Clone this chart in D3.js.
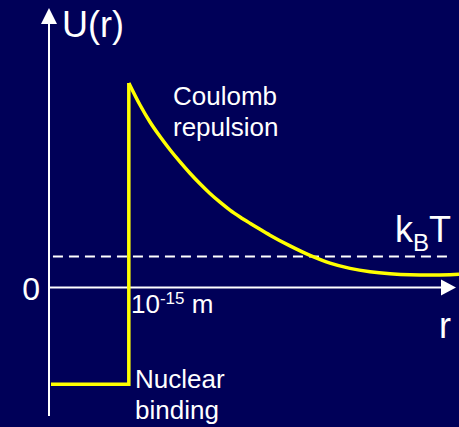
<!DOCTYPE html>
<html><head><meta charset="utf-8">
<script src="https://cdn.jsdelivr.net/npm/d3@7"></script>
<style>html,body{margin:0;padding:0;background:#000058;overflow:hidden}</style>
</head><body>
<script>
// r in units of 1e-15 m, U in arbitrary units
const wellR = [0.025, 1.01, 1.01];
const wellU = [-4.78, -4.78, 10.1];
const coulombR = [1.01, 1.152, 1.278, 1.405, 1.531, 1.658, 1.784, 1.911, 2.037, 2.164, 2.290, 2.417, 2.543, 2.670, 2.796, 3.050, 3.303, 3.556, 3.809, 4.062, 4.315, 4.568, 4.821, 5.074, 5.188];
const coulombU = [10.1, 9.01, 8.17, 7.45, 6.80, 6.20, 5.64, 5.12, 4.64, 4.21, 3.82, 3.48, 3.17, 2.87, 2.58, 2.05, 1.58, 1.20, 0.94, 0.77, 0.67, 0.62, 0.61, 0.63, 0.65];
const kBT = 1.53;
const kBTRange = [0.05, 5.08];
const rDomain = [0, 5.15];
const uDomain = [-6.35, 13.8];

const W = 459, H = 427;
const svg = d3.select("body").append("svg").attr("width", W).attr("height", H);
svg.append("rect").attr("width", W).attr("height", H).attr("fill", "#000058");

const x = d3.scaleLinear().domain(rDomain).range([49, 456]);
const y = d3.scaleLinear().domain(uDomain).range([416, 8]);

const white = "#ffffff", yellow = "#ffff00";
const font = "'Liberation Sans', Arial, sans-serif";

// axes
svg.append("line").attr("x1", x(0)).attr("x2", x(0)).attr("y1", y(uDomain[0])).attr("y2", y(uDomain[1]) + 10)
  .attr("stroke", white).attr("stroke-width", 2);
svg.append("path").attr("d", `M${x(0)},${y(uDomain[1])} L${x(0)-8},${y(uDomain[1])+16} L${x(0)+8},${y(uDomain[1])+16} Z`).attr("fill", white);
svg.append("line").attr("x1", x(0)).attr("x2", x(rDomain[1]) - 10).attr("y1", y(0)).attr("y2", y(0))
  .attr("stroke", white).attr("stroke-width", 2);
svg.append("path").attr("d", `M${x(rDomain[1])},${y(0)} L${x(rDomain[1])-15},${y(0)-8} L${x(rDomain[1])-15},${y(0)+8} Z`).attr("fill", white);

// kBT dashed
svg.append("line").attr("x1", x(kBTRange[0])).attr("x2", x(kBTRange[1])).attr("y1", y(kBT)).attr("y2", y(kBT))
  .attr("stroke", white).attr("stroke-width", 2).attr("stroke-dasharray", "10,6");

// potential
const wellLine = d3.line().x(d => x(d[0])).y(d => y(d[1]));
svg.append("path").datum(wellR.map((r, i) => [r, wellU[i]])).attr("d", wellLine)
  .attr("fill", "none").attr("stroke", yellow).attr("stroke-width", 3.5);
const cLine = d3.line().x(d => x(d[0])).y(d => y(d[1])).curve(d3.curveMonotoneX);
svg.append("path").datum(coulombR.map((r, i) => [r, coulombU[i]])).attr("d", cLine)
  .attr("fill", "none").attr("stroke", yellow).attr("stroke-width", 3.5).attr("stroke-linejoin", "round");

// texts
function txt(xp, yp, s, size, anchor) {
  return svg.append("text").attr("x", xp).attr("y", yp).attr("fill", white)
    .attr("font-family", font).attr("font-size", size).attr("text-anchor", anchor || "start").text(s);
}
txt(62, 37, "U(r)", 36);
txt(40, 300, "0", 32, "end");
txt(451, 338, "r", 36, "end");
txt(173, 105, "Coulomb", 26);
txt(173, 136, "repulsion", 26);
txt(135, 388, "Nuclear", 26);
txt(135, 419, "binding", 26);

const t1 = svg.append("text").attr("x", 131).attr("y", 313).attr("fill", white).attr("font-family", font).attr("font-size", 26);
t1.append("tspan").text("10");
t1.append("tspan").attr("dy", -9).attr("font-size", 17).text("-15");
t1.append("tspan").attr("dy", 9).text(" m");

const t2 = svg.append("text").attr("x", 395).attr("y", 242).attr("fill", white).attr("font-family", font).attr("font-size", 36);
t2.append("tspan").text("k");
t2.append("tspan").attr("dy", 9).attr("font-size", 24).text("B");
t2.append("tspan").attr("dy", -9).text("T");
</script>
</body></html>
